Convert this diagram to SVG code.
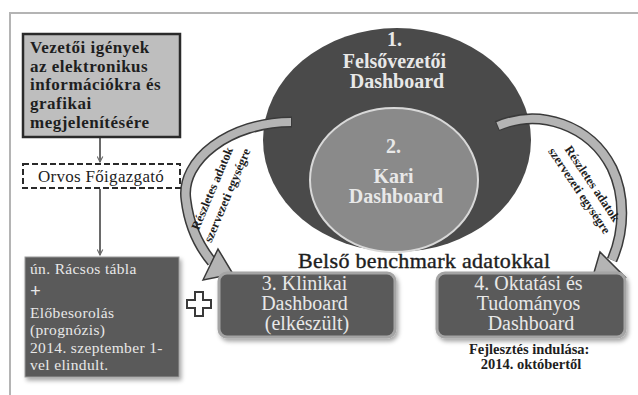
<svg xmlns="http://www.w3.org/2000/svg" width="638" height="395" viewBox="0 0 638 395">
  <style>
    text { font-family: "Liberation Serif", "DejaVu Serif", serif; }
    .bold { font-weight: bold; }
    .dark { fill: #1e1e1e; }
    .light { fill: #e8e8e8; }
    .box { fill: #5a5a5a; stroke: #a4a4a4; stroke-width: 3; }
    .band-out { fill: none; stroke: #3a3a3a; stroke-width: 11; }
    .band-in { fill: none; stroke: #b4b4b4; stroke-width: 8; }
    .head { fill: #b4b4b4; stroke: #3a3a3a; stroke-width: 1.5; stroke-linejoin: miter; }
    .link { stroke: #6a6a6a; stroke-width: 2; fill: none; }
  </style>
  <defs>
    <marker id="arr" viewBox="0 0 10 10" refX="9" refY="5" markerWidth="7" markerHeight="7" orient="auto" markerUnits="userSpaceOnUse">
      <path d="M1 1 L9 5 L1 9" fill="none" stroke="#6a6a6a" stroke-width="1.6"/>
    </marker>
    <filter id="shadow" x="-10%" y="-10%" width="130%" height="140%">
      <feDropShadow dx="2" dy="3" stdDeviation="2" flood-color="#000" flood-opacity="0.35"/>
    </filter>
  </defs>

  <rect width="638" height="395" fill="#ffffff"/>

  <!-- outer frame -->
  <path d="M10 395 V13 H638" fill="none" stroke="#b4b4b4" stroke-width="2"/>

  <!-- executive dashboard -->
  <g id="felsovezetoi">
    <ellipse cx="397" cy="140" rx="134" ry="112" fill="#4a4a4a"/>
    <text class="bold light" font-size="20" text-anchor="middle">
      <tspan x="397" y="46">1.</tspan>
      <tspan x="397" y="68">Felsővezetői</tspan>
      <tspan x="397" y="88">Dashboard</tspan>
    </text>
  </g>

  <!-- faculty dashboard -->
  <g id="kari">
    <ellipse cx="394" cy="180" rx="84" ry="72" fill="#8a8a8a" stroke="#d8d8d8" stroke-width="2"/>
    <text class="bold light" font-size="20" text-anchor="middle">
      <tspan x="396" y="153">2.</tspan>
      <tspan x="396" y="183">Kari</tspan>
      <tspan x="396" y="203">Dashboard</tspan>
    </text>
  </g>

  <!-- connectors -->
  <g id="connectors">
    <line class="link" x1="100" y1="137" x2="100" y2="162" marker-end="url(#arr)"/>
    <line class="link" x1="100" y1="189" x2="100" y2="255" marker-end="url(#arr)"/>

    <!-- left curved arrow -->
    <path class="band-out" d="M292 122 C230 122 180 160 186 200 C189 225 198 245 212 262"/>
    <path class="band-in" d="M291 122 C230 122 180 160 186 200 C189 225 198 245 212 262"/>
    <polygon class="head" points="203,280 218,249 233,274"/>

    <!-- right curved arrow -->
    <path class="band-out" d="M497 126 C540 108 590 125 612 168 C625 195 625 230 612 260"/>
    <path class="band-in" d="M498 126 C540 108 590 125 612 168 C625 195 625 230 612 260"/>
    <polygon class="head" points="593,276 600,252 625,277"/>

    <text class="bold dark" font-size="12.5" text-anchor="middle" transform="translate(216 190) rotate(-67)">Részletes adatok</text>
    <text class="bold dark" font-size="12.5" text-anchor="middle" transform="translate(231 197) rotate(-67)">szervezeti egységre</text>
    <text class="bold dark" font-size="12.5" text-anchor="middle" transform="translate(589 186) rotate(56)">Részletes adatok</text>
    <text class="bold dark" font-size="12.5" text-anchor="middle" transform="translate(576 193) rotate(56)">szervezeti egységre</text>
  </g>

  <!-- requirements box -->
  <g id="igenyek">
    <rect x="23" y="34" width="157" height="103" fill="#bebebe" stroke="#2a2a2a" stroke-width="2.5"/>
    <text class="bold dark" font-size="17" letter-spacing="0.5">
      <tspan x="30" y="53">Vezetői igények</tspan>
      <tspan x="30" y="72">az elektronikus</tspan>
      <tspan x="30" y="90">információkra és</tspan>
      <tspan x="30" y="109">grafikai</tspan>
      <tspan x="30" y="128">megjelenítésére</tspan>
    </text>
  </g>

  <!-- dashed director box -->
  <g id="foigazgato">
    <rect x="23" y="164" width="157" height="24" fill="#ffffff" stroke="#2a2a2a" stroke-width="2" stroke-dasharray="6 3"/>
    <text class="dark" font-size="17" x="101" y="182" text-anchor="middle" letter-spacing="0.3">Orvos Főigazgató</text>
  </g>

  <!-- grid table box -->
  <g id="racsos">
    <rect x="25" y="257" width="154" height="120" fill="#5a5a5a" stroke="#9a9a9a" stroke-width="1" filter="url(#shadow)"/>
    <text class="light" font-size="15.5" letter-spacing="0.35">
      <tspan x="30" y="274">ún. Rácsos tábla</tspan>
      <tspan x="30" y="297" font-weight="bold" font-size="19">+</tspan>
      <tspan x="30" y="318">Előbesorolás</tspan>
      <tspan x="30" y="335">(prognózis)</tspan>
      <tspan x="30" y="353">2014. szeptember 1-</tspan>
      <tspan x="30" y="370">vel elindult.</tspan>
    </text>
  </g>

  <!-- plus sign -->
  <g id="plusz">
    <path d="M195 292 H203 V300 H211 V308 H203 V316 H195 V308 H187 V300 H195 Z" fill="#ffffff" stroke="#3a3a3a" stroke-width="2"/>
  </g>

  <text id="benchmark" class="dark" font-size="22" x="298" y="268" textLength="252" stroke="#1e1e1e" stroke-width="0.4">Belső benchmark adatokkal</text>

  <!-- clinical dashboard -->
  <g id="klinikai">
    <rect class="box" x="219" y="273" width="176" height="64" rx="8" filter="url(#shadow)"/>
    <text class="light" font-size="20" text-anchor="middle">
      <tspan x="307" y="290">3. Klinikai</tspan>
      <tspan x="307" y="310">Dashboard</tspan>
      <tspan x="307" y="330">(elkészült)</tspan>
    </text>
  </g>

  <!-- teaching and research dashboard -->
  <g id="oktatasi">
    <rect class="box" x="437" y="273" width="188" height="64" rx="8" filter="url(#shadow)"/>
    <text class="light" font-size="20" text-anchor="middle">
      <tspan x="531" y="290">4. Oktatási és</tspan>
      <tspan x="531" y="310">Tudományos</tspan>
      <tspan x="531" y="330">Dashboard</tspan>
    </text>
    <text class="bold dark" font-size="14.5" text-anchor="middle">
      <tspan x="531" y="354">Fejlesztés indulása:</tspan>
      <tspan x="531" y="369">2014. októbertől</tspan>
    </text>
  </g>
</svg>
